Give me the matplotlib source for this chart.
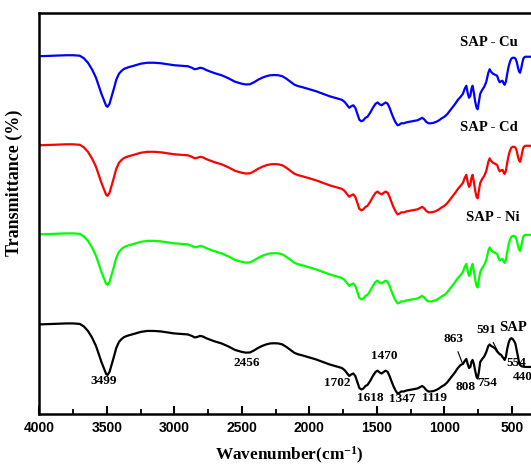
import matplotlib
matplotlib.use("Agg")
import matplotlib.pyplot as plt
from matplotlib.ticker import MultipleLocator

plt.rcParams['mathtext.fontset'] = 'custom'
plt.rcParams['mathtext.rm'] = 'Liberation Serif:bold'
plt.rcParams['mathtext.bf'] = 'Liberation Serif:bold'
plt.rcParams['mathtext.default'] = 'bf'

# wavenumber grid (cm-1)
wavenumber = [
    4000, 3900, 3800, 3750, 3700, 3670, 3640, 3610, 3580, 3560,
    3540, 3520, 3505, 3495, 3480, 3465, 3450, 3430, 3410, 3390,
    3370, 3340, 3300, 3250, 3200, 3150, 3100, 3050, 3000, 2950,
    2900, 2870, 2850, 2830, 2810, 2790, 2760, 2730, 2700, 2650,
    2600, 2550, 2500, 2470, 2440, 2410, 2380, 2350, 2320, 2290,
    2260, 2230, 2200, 2170, 2140, 2110, 2080, 2050, 2000, 1950,
    1900, 1850, 1800, 1760, 1740, 1720, 1705, 1690, 1675, 1660,
    1645, 1630, 1615, 1600, 1585, 1570, 1550, 1530, 1510, 1495,
    1480, 1465, 1450, 1435, 1420, 1405, 1390, 1375, 1360, 1347,
    1335, 1320, 1300, 1280, 1260, 1240, 1220, 1200, 1185, 1165,
    1150, 1135, 1119, 1100, 1080, 1060, 1040, 1020, 1000, 980,
    960, 940, 920, 900, 880,
    863, 850, 838, 828, 818, 808, 800, 792, 782, 772,
    762, 754, 745, 735, 720, 705, 690, 675, 665, 655,
    640, 625, 610, 600, 591, 580, 570, 560, 554, 545,
    535, 525, 515, 505, 495, 485, 475, 465, 455, 448,
    440, 432, 424, 416, 408, 400, 380, 350,
]

# transmittance (stacked, arbitrary units)
sap = [
    89.5, 90, 90.5, 90.5, 90, 87.5, 83, 76.5, 68, 60,
    52, 45, 40, 39, 42, 49, 56, 66, 72, 75,
    77, 78.5, 80, 82, 83, 83, 82.5, 81.5, 80.5, 80,
    79.5, 78, 76.5, 77, 78, 77.5, 75.5, 74, 72.5, 70.5,
    67.5, 64, 62, 61.3, 61.5, 63.5, 66, 68, 69.5, 70.5,
    70.7, 70.5, 69.5, 67, 64, 61, 59.5, 58.5, 56.5, 54.5,
    52, 49.5, 47.5, 46, 44, 40.5, 38, 39.5, 40.5, 38,
    32, 26, 24.5, 25.5, 28, 29, 33, 38, 42, 43.3,
    41.5, 40.5, 42, 43.3, 42, 37.5, 32, 27, 23, 20.5,
    21, 22.5, 22.5, 23.5, 24, 24.5, 25, 25.5, 26.5, 28,
    26.5, 24, 22.5, 22.5, 23, 24, 25.5, 27.5, 29, 31.5,
    35, 38.5, 42, 46, 49,
    50, 53, 55, 50, 46, 47, 52, 54, 50, 43,
    37, 35.5, 42, 52, 55, 57.5, 62, 68, 69.5, 68,
    67, 65.5, 62.5, 61, 60, 59, 57, 55.5, 54, 57,
    65, 71, 74.5, 75.7, 75, 73, 70.5, 64, 57, 52,
    49, 48, 47.5, 47.3, 47, 47, 47, 47,
]

sap_ni = [
    179.5, 180, 180.5, 180.5, 180, 177.5, 173, 166.5, 158, 150,
    142, 135, 130, 129, 132, 139, 146, 156, 162, 165,
    167, 168.5, 170, 172, 173, 173, 172.5, 171.5, 170.5, 170,
    169.5, 168, 166.5, 167, 168, 167.5, 165.5, 164, 162.5, 160.5,
    157.5, 154, 152, 151.3, 151.5, 153.5, 156, 158, 159.5, 160.5,
    160.7, 160.5, 159.5, 157, 154, 151, 149.5, 148.5, 146.5, 144.5,
    142, 139.5, 137.5, 136, 134, 130.5, 128, 129.5, 130.5, 128,
    122, 116, 114.5, 115.5, 118, 119, 123, 128, 132, 133.3,
    131.5, 130.5, 132, 133.3, 132, 127.5, 122, 117, 113, 110.5,
    111, 112.5, 112.5, 113.5, 114, 114.5, 115, 115.5, 116.5, 118,
    116.5, 114, 112.5, 112.5, 113, 114, 115.5, 117.5, 119, 121.5,
    125, 128.5, 132, 136, 139,
    142, 147, 150, 143, 138, 140, 147, 150, 143, 134,
    128, 126.5, 134, 142, 146, 149, 154, 163, 166.5, 164,
    162, 161, 160, 156, 153.5, 154.5, 155, 152, 151, 154,
    162, 169, 174, 177, 178, 178, 177.5, 174, 168, 164.5,
    163, 167, 172.5, 177, 178.5, 179, 179, 179,
]

sap_cd = [
    268.5, 269, 269.5, 269.5, 269, 266.5, 262, 255.5, 247, 239,
    231, 224, 219, 218, 221, 228, 235, 245, 251, 254,
    256, 257.5, 259, 261, 262, 262, 261.5, 260.5, 259.5, 259,
    258.5, 257, 255.5, 256, 257, 256.5, 254.5, 253, 251.5, 249.5,
    246.5, 243, 241, 240.3, 240.5, 242.5, 245, 247, 248.5, 249.5,
    249.7, 249.5, 248.5, 246, 243, 240, 238.5, 237.5, 235.5, 233.5,
    231, 228.5, 226.5, 225, 223, 219.5, 217, 218.5, 219.5, 217,
    211, 205, 203.5, 204.5, 207, 208, 212, 217, 221, 222.3,
    220.5, 219.5, 221, 222.3, 221, 216.5, 211, 206, 202, 199.5,
    200, 201.5, 201.5, 202.5, 203, 203.5, 204, 204.5, 205.5, 207,
    205.5, 203, 201.5, 201.5, 202, 203, 204.5, 206.5, 208, 210.5,
    214, 217.5, 221, 225, 228,
    231, 236, 239, 232, 227, 229, 236, 239, 232, 223,
    217, 215.5, 223, 231, 235, 238, 243, 252, 255.5, 253,
    251, 250, 249, 245, 242.5, 243.5, 244, 241, 240, 243,
    251, 258, 263, 266, 267, 267, 266.5, 263, 257, 253.5,
    252, 256, 261.5, 266, 267.5, 268, 268, 268,
]

sap_cu = [
    357.5, 358, 358.5, 358.5, 358, 355.5, 351, 344.5, 336, 328,
    320, 313, 308, 307, 310, 317, 324, 334, 340, 343,
    345, 346.5, 348, 350, 351, 351, 350.5, 349.5, 348.5, 348,
    347.5, 346, 344.5, 345, 346, 345.5, 343.5, 342, 340.5, 338.5,
    335.5, 332, 330, 329.3, 329.5, 331.5, 334, 336, 337.5, 338.5,
    338.7, 338.5, 337.5, 335, 332, 329, 327.5, 326.5, 324.5, 322.5,
    320, 317.5, 315.5, 314, 312, 308.5, 306, 307.5, 308.5, 306,
    300, 294, 292.5, 293.5, 296, 297, 301, 306, 310, 311.3,
    309.5, 308.5, 310, 311.3, 310, 305.5, 300, 295, 291, 288.5,
    289, 290.5, 290.5, 291.5, 292, 292.5, 293, 293.5, 294.5, 296,
    294.5, 292, 290.5, 290.5, 291, 292, 293.5, 295.5, 297, 299.5,
    303, 306.5, 310, 314, 317,
    320, 325, 328, 321, 316, 318, 325, 328, 321, 312,
    306, 304.5, 312, 320, 324, 327, 332, 341, 344.5, 342,
    340, 339, 338, 334, 331.5, 332.5, 333, 330, 329, 332,
    340, 347, 352, 355, 356, 356, 355.5, 352, 346, 342.5,
    341, 345, 350.5, 355, 356.5, 357, 357, 357,
]

series = [sap, sap_ni, sap_cd, sap_cu]
colors = ['black', '#00ff00', '#ff0000', '#0000ff']

series_labels = ['SAP - Ni', 'SAP - Cd', 'SAP - Cu']
series_label_pos = [(444, 196), (456, 286), (456, 371)]

peak_labels = ['3499', '2456', '1702', '1618', '1470', '1347', '1119',
               '808', '754']
peak_label_pos = [(3521, 33), (2464, 51), (1794, 31), (1551, 16), (1446, 58),
                  (1312, 15), (1070, 16), (841, 27), (683, 31)]

serif_bold = dict(family='Liberation Serif', fontweight='bold')

fig = plt.figure(figsize=(5.31, 4.67), dpi=100)
ax = fig.add_axes([0.074, 0.1135, 0.941, 0.8593])

for vals, col in zip(series, colors):
    ax.plot(wavenumber, vals, color=col, lw=1.6)

ax.set_xlim(4000, 300)
ax.set_ylim(0, 401)

ax.xaxis.set_major_locator(MultipleLocator(500))
ax.xaxis.set_minor_locator(MultipleLocator(250))
ax.tick_params(axis='x', which='major', direction='in', length=6, width=1.5,
               pad=5, labelsize=10)
ax.tick_params(axis='x', which='minor', direction='in', length=3.5, width=1.3)
ax.tick_params(axis='y', left=False, labelleft=False)
for lab in ax.get_xticklabels():
    lab.set_fontfamily('Liberation Sans')
    lab.set_fontweight('bold')
for sp in ax.spines.values():
    sp.set_linewidth(1.8)

ax.set_xlabel('Wavenumber(cm$^{-1}$)', fontsize=12.4, labelpad=7.5, **serif_bold)
ax.set_ylabel('Transmittance (%)', fontsize=13, **serif_bold)
ax.yaxis.set_label_coords(-0.033, 0.575)

for txt, (x, y) in zip(series_labels, series_label_pos):
    ax.text(x, y, txt, ha='right', va='center', fontsize=10.5, **serif_bold)

for txt, (x, y) in zip(peak_labels, peak_label_pos):
    ax.text(x, y, txt, ha='center', va='center', fontsize=9.5, **serif_bold)

ax.annotate('863', xy=(868, 51), xytext=(935, 75), ha='center', va='center',
            fontsize=9.5, arrowprops=dict(arrowstyle='-', lw=0.8, color='black',
                                          shrinkA=3, shrinkB=0), **serif_bold)
ax.annotate('591', xy=(591, 59), xytext=(687, 84), ha='center', va='center',
            fontsize=9.5, arrowprops=dict(arrowstyle='-', lw=0.8, color='black',
                                          shrinkA=3, shrinkB=0), **serif_bold)
ax.text(539, 51, '554', ha='left', va='center', fontsize=9.5, **serif_bold)
ax.text(490, 37, '440', ha='left', va='center', fontsize=9.5, **serif_bold)
ax.text(596, 86, 'SAP', ha='left', va='center', fontsize=10.5, **serif_bold)

fig.savefig('out.png', dpi=100)
